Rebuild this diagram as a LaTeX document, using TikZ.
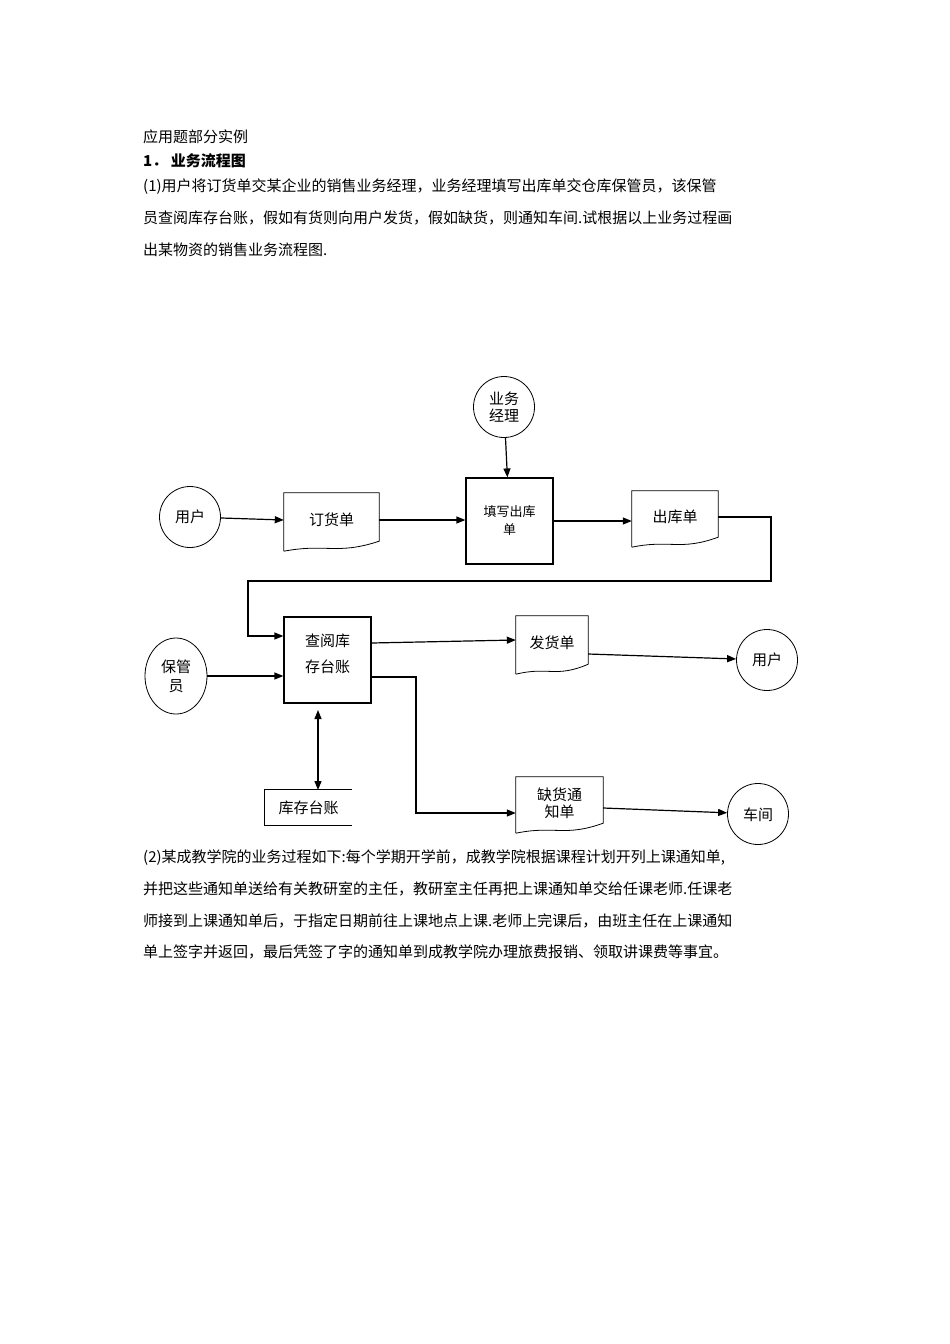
\documentclass[tikz,border=0pt]{standalone}
\usepackage{fontspec}
\setmainfont{Noto Sans CJK SC}
\usetikzlibrary{arrows.meta,shapes.geometric}
\newcommand\docnode[6]{%
  \node[inner sep=0,align=center,minimum width=#4pt,minimum height=#5pt,font=\fontsize{15}{17}\selectfont] (#1) at (#2,#3) {#6};
  \draw[line width=0.8pt] ([yshift=-4pt]#1.south west) -- (#1.north west) -- (#1.north east) -- ([yshift=6pt]#1.south east)
    .. controls +({-0.45*#4pt},-14pt) and +({0.45*#4pt},8pt) .. ([yshift=-4pt]#1.south west);}
\tikzset{
  txt/.style={anchor=west,inner sep=0,font=\fontsize{15}{17}\selectfont},
  ent/.style={draw,circle,line width=0.8pt,minimum size=61pt,inner sep=0,font=\fontsize{15}{17}\selectfont,align=center},
  proc/.style={draw,line width=1.2pt,inner sep=0,font=\fontsize{15}{17}\selectfont,align=center},
  arr/.style={line width=1.2pt,-{Triangle[length=9pt,width=7pt]}},
}
\begin{document}
\begin{tikzpicture}[x=1pt,y=-1pt]
\useasboundingbox[fill=white] (0,0) rectangle (950,1344);
\node[txt] (t1) at (143,137) {应用题部分实例};
\node[txt,font=\fontsize{15}{17}\selectfont\bfseries] (t2) at (143,161) {1．\ 业务流程图};
\node[txt] (t3) at (143,187) {(1)用户将订货单交某企业的销售业务经理，业务经理填写出库单交仓库保管员，该保管};
\node[txt] (t4) at (143,218) {员查阅库存台账，假如有货则向用户发货，假如缺货，则通知车间.试根据以上业务过程画};
\node[txt] (t5) at (143,250) {出某物资的销售业务流程图.};
\node[txt] (b1) at (143,858) {(2)某成教学院的业务过程如下:每个学期开学前，成教学院根据课程计划开列上课通知单,};
\node[txt] (b2) at (143,889) {并把这些通知单送给有关教研室的主任，教研室主任再把上课通知单交给任课老师.任课老};
\node[txt] (b3) at (143,921) {师接到上课通知单后，于指定日期前往上课地点上课.老师上完课后，由班主任在上课通知};
\node[txt] (b4) at (143,952) {单上签字并返回，最后凭签了字的通知单到成教学院办理旅费报销、领取讲课费等事宜。};

\node[ent] (jl) at (504,407) {业务\\经理};
\node[ent] (yh1) at (190,517) {用户};
\node[ent] (yh2) at (767,660) {用户};
\node[ent] (cj) at (758,814) {\raisebox{-14pt}{车间}};
\node[draw,ellipse,line width=0.8pt,minimum width=62pt,minimum height=76pt,inner sep=0,align=center,font=\fontsize{15}{17}\selectfont] (bg) at (176,676) {\raisebox{8pt}{保管}\\[-6pt]员};

\node[proc,minimum width=87pt,minimum height=86pt,font=\fontsize{13}{14}\selectfont] (tx) at (509.5,521) {\raisebox{4pt}{填写出库}\\单};
\node[proc,minimum width=87pt,minimum height=86pt] (cy) at (327.5,660) {\raisebox{14pt}{查阅库}\\[-2pt]\raisebox{14pt}{存台账}};

\docnode{dh}{331.5}{520}{95}{54}{订货单}
\docnode{ck}{675}{517}{86}{52}{出库单}
\docnode{fh}{552}{643}{72}{54}{发货单}
\docnode{qh}{559.5}{803}{87}{52}{缺货通\\知单}

\node[inner sep=0,minimum width=87pt,minimum height=35pt,font=\fontsize{15}{17}\selectfont] (kc) at (308.5,807.5) {库存台账};
\draw[line width=0.8pt] (kc.north east) -- (kc.north west) -- (kc.south west) -- (kc.south east);

\coordinate (p1) at (771,581);
\coordinate (p2) at (248,581);
\coordinate (p3) at (248,636);
\coordinate (p4) at (416,677);
\coordinate (k1) at (318,710);
\coordinate (k2) at (318,790);

\draw[arr] (jl) -- (tx);
\draw[arr] (yh1) -- (dh.west);
\draw[arr] (dh.east) -- (tx.west |- dh.east);
\draw[arr] (tx.east) -- (ck.west |- tx.east);
\draw[arr] (ck.east) -| (p1) -- (p2) -- (p3) -- (cy.west |- p3);
\draw[arr] (bg) -- (cy.west |- bg);
\draw[arr] ([yshift=17pt]cy.east) -- ([yshift=3pt]fh.west);
\draw[arr] ([yshift=-11pt]fh.east) -- (yh2);
\draw[line width=1.2pt,{Triangle[length=9pt,width=7pt]}-{Triangle[length=9pt,width=7pt]}] (k1) -- (k2);
\draw[arr] ([yshift=-17pt]cy.east) -- (p4) |- ([yshift=-10pt]qh.west);
\draw[arr] ([yshift=-5pt]qh.east) -- (cj);
\end{tikzpicture}
\end{document}
